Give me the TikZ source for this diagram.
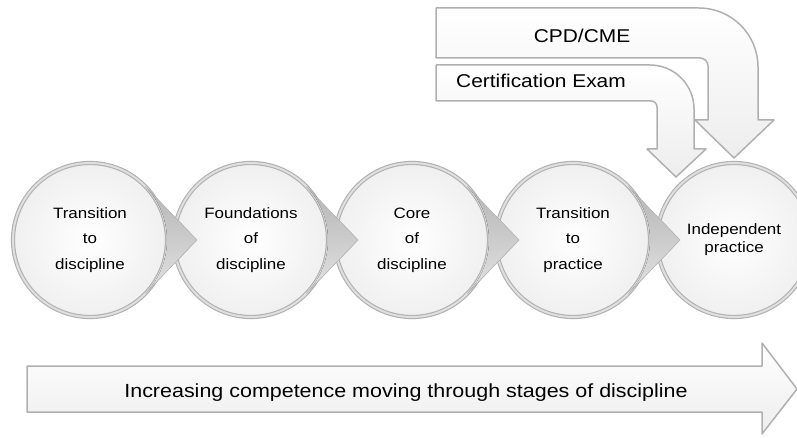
\documentclass[tikz,border=0pt]{standalone}
\usepackage{fontspec}
\setmainfont{Liberation Sans}[FakeStretch=1.13]
\usetikzlibrary{positioning,calc}

\begin{document}
\begin{tikzpicture}[
  x=1pt, y=1pt,
  stage/.style={
        circle,
        minimum size=154pt,
        inner sep=0pt,
        outer sep=0pt,
        align=center,
        font=\fontsize{15}{18}\selectfont,
        inner color=white,
        outer color=gray!12,
        draw=gray!62,
        line width=1.1pt,
        double=gray!25,
        double distance=2pt
  },
  pointer/.style={
        top color=gray!58,
        bottom color=gray!22
  },
  pointeredge/.style={
        draw=gray!52,
        line width=0.6pt,
        line join=round
  },
  bigarrow/.style={
        top color=white,
        bottom color=gray!14,
        draw=gray!62,
        line width=1.5pt,
        line join=round
  },
  arrowtext/.style={
        font=\fontsize{18.5}{22}\selectfont,
        anchor=base
  }
]

    \useasboundingbox (0,0) rectangle (797,437);

    % stages
    \node[stage] (S1) at (90,197) {Transition\\[7.5pt]to\\[7.5pt]discipline};
    \node[stage, right=7pt of S1] (S2) {Foundations\\[7.5pt]of\\[7.5pt]discipline};
    \node[stage, right=7pt of S2] (S3) {Core\\[7.5pt]of\\[7.5pt]discipline};
    \node[stage, right=7pt of S3] (S4) {Transition\\[7.5pt]to\\[7.5pt]practice};
    \node[stage, right=7pt of S4] (S5) {Independent\\practice};

    % pointers
    \fill[pointer] ($(S1.center)+(44:77)$) -- ($(S1.center)+(107,0)$) -- ($(S1.center)+(-44:77)$) arc[start angle=-44, end angle=44, radius=77] -- cycle;
    \draw[pointeredge] ($(S1.center)+(44:77)$) -- ($(S1.center)+(107,0)$) -- ($(S1.center)+(-44:77)$);
    \fill[pointer] ($(S2.center)+(44:77)$) -- ($(S2.center)+(107,0)$) -- ($(S2.center)+(-44:77)$) arc[start angle=-44, end angle=44, radius=77] -- cycle;
    \draw[pointeredge] ($(S2.center)+(44:77)$) -- ($(S2.center)+(107,0)$) -- ($(S2.center)+(-44:77)$);
    \fill[pointer] ($(S3.center)+(44:77)$) -- ($(S3.center)+(107,0)$) -- ($(S3.center)+(-44:77)$) arc[start angle=-44, end angle=44, radius=77] -- cycle;
    \draw[pointeredge] ($(S3.center)+(44:77)$) -- ($(S3.center)+(107,0)$) -- ($(S3.center)+(-44:77)$);
    \fill[pointer] ($(S4.center)+(44:77)$) -- ($(S4.center)+(107,0)$) -- ($(S4.center)+(-44:77)$) arc[start angle=-44, end angle=44, radius=77] -- cycle;
    \draw[pointeredge] ($(S4.center)+(44:77)$) -- ($(S4.center)+(107,0)$) -- ($(S4.center)+(-44:77)$);

    % CPD/CME arrow
    \draw[bigarrow] (436,429) -- (699,429) arc[start angle=90, end angle=0, radius=59]
        -- (758,317) -- (774,317) -- (734,279) -- (695,317) -- (708,317)
        -- (708,371) arc[start angle=0, end angle=90, radius=8] -- (436,379) -- cycle;
    \node[arrowtext] (cpd) at (582,394) {CPD/CME};

    % certification arrow
    \draw[bigarrow] (436,372) -- (650,372) arc[start angle=90, end angle=0, radius=44]
        -- (694,288) -- (706,288) -- (676,260) -- (647,288) -- (657,288)
        -- (657,330) arc[start angle=0, end angle=90, radius=6] -- (436,336) -- cycle;
    \node[arrowtext] (exam) at (541,349) {Certification Exam};

    % competence arrow
    \draw[bigarrow] (27,71) -- (762,71) -- (762,94) -- (797,48) -- (762,3) -- (762,25) -- (27,25) -- cycle;
    \node[arrowtext, font=\fontsize{19}{22}\selectfont] (competence) at (406,40) {Increasing competence moving through stages of discipline};
\end{tikzpicture}
\end{document}
